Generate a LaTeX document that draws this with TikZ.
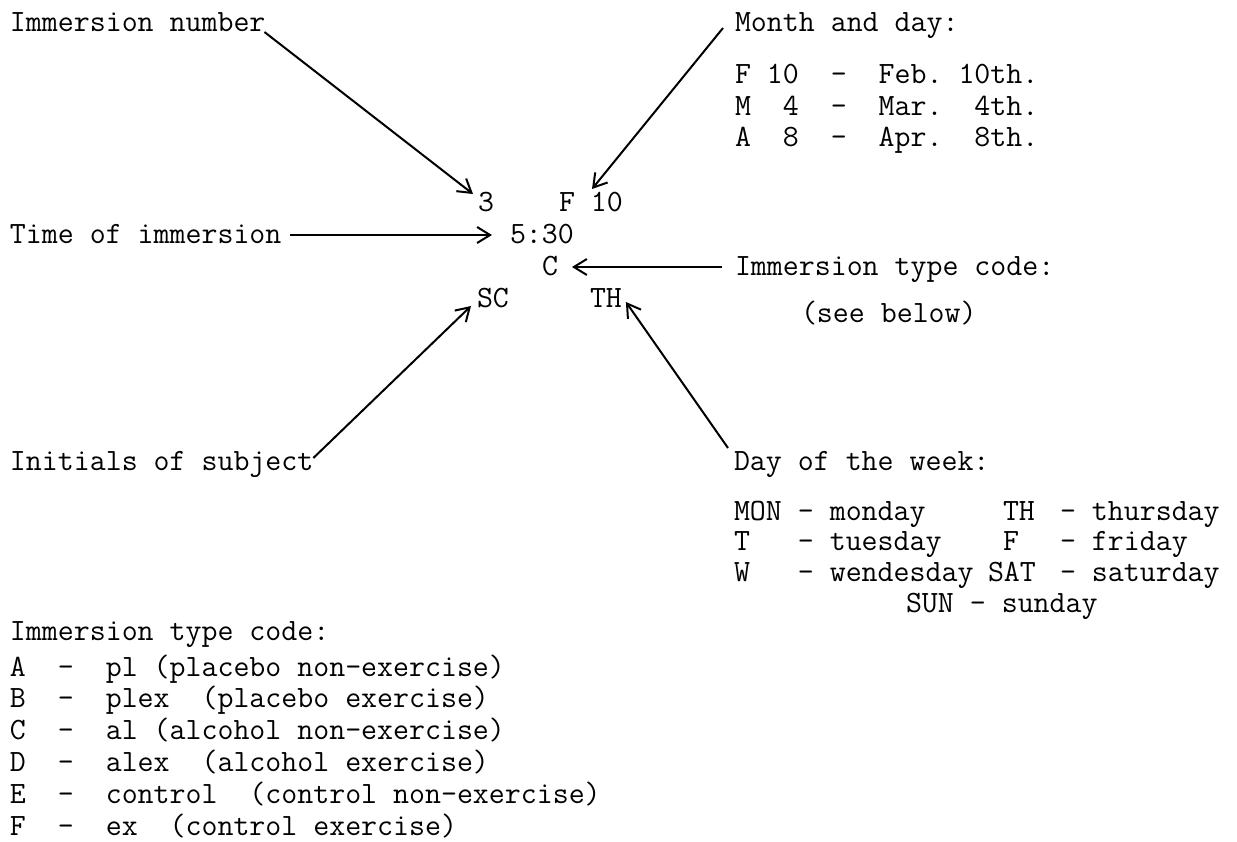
\documentclass[tikz,border=0pt]{standalone}
\usepackage{fontspec}
\usetikzlibrary{arrows.meta}
\begin{document}
\begin{tikzpicture}[x=0.5pt,y=-0.5pt,
  txt/.style={anchor=base west,inner sep=0pt,outer sep=0pt,
    font=\ttfamily\fontsize{15.5pt}{18pt}\selectfont\frenchspacing},
  arr/.style={line width=1pt,-{Straight Barb[length=6.5pt,width=8pt,line width=1pt]}}]
\useasboundingbox (0,0) rectangle (1237,841);
\fill[white] (0,0) rectangle (1237,841);
% labels and centre record
\node[txt] (immnum) at (10,31) {Immersion number};
\node[txt] (month) at (735,31) {Month and day:};
\node[txt] (m1) at (735,83) {F~10~~-~~Feb.~10th.};
\node[txt] (m2) at (735,115) {M~~4~~-~~Mar.~~4th.};
\node[txt] (m3) at (735,146) {A~~8~~-~~Apr.~~8th.};
\node[txt] (num) at (478,211) {3};
\node[txt] (date) at (559,211) {F~10};
\node[txt] (timelbl) at (10,243) {Time of immersion};
\node[txt] (time) at (510,243) {5:30};
\node[txt] (code) at (542,275) {C};
\node[txt] (codelbl) at (735,275) {Immersion type code:};
\node[txt] (see) at (801,322) {(see below)};
\node[txt] (init) at (477,307) {SC};
\node[txt] (dow) at (590,307) {TH};
\node[txt] (initlbl) at (10,470) {Initials of subject};
\node[txt] (dowlbl) at (734,470) {Day of the week:};
% day list
\node[txt] (d1) at (734,520) {MON~-~monday};
\node[txt] (d2) at (734,550) {T~~~-~tuesday};
\node[txt] (d3) at (734,581) {W~~~-~wendesday};
\node[txt] (d4k) at (1003,520) {TH};
\node[txt] (d4) at (1060,520) {-~thursday};
\node[txt] (d5k) at (1003,550) {F};
\node[txt] (d5) at (1060,550) {-~friday};
\node[txt] (d6k) at (988,581) {SAT};
\node[txt] (d6) at (1060,581) {-~saturday};
\node[txt] (d7) at (906,612) {SUN~-~sunday};
% immersion type code list
\node[txt] (codes) at (10,640) {Immersion type code:};
\node[txt] (ca) at (10,676) {A~~-~~pl (placebo non-exercise)};
\node[txt] (cb) at (10,707) {B~~-~~plex~~(placebo exercise)};
\node[txt] (cc) at (10,739) {C~~-~~al (alcohol non-exercise)};
\node[txt] (cd) at (10,771) {D~~-~~alex~~(alcohol exercise)};
\node[txt] (ce) at (10,803) {E~~-~~control~~(control non-exercise)};
\node[txt] (cf) at (10,835) {F~~-~~ex~~(control exercise)};
% arrows
\draw[arr] ([shift={(-1,1)}]immnum.base east) -- ([shift={(-5,-17)}]num.base west);
\draw[arr] ([shift={(-12,-3)}]month.base west) -- ([shift={(33,-22)}]date.base west);
\draw[arr] ([shift={(9,-8)}]timelbl.base east) -- ([shift={(-18,-8)}]time.base west);
\draw[arr] ([shift={(-13,-8)}]codelbl.base west) -- ([shift={(14,-8)}]code.base east);
\draw[arr] ([shift={(0,-12)}]initlbl.base east) -- ([shift={(-6,-1)}]init.base west);
\draw[arr] ([shift={(-6,-22)}]dowlbl.base west) -- ([shift={(4,-5)}]dow.base east);
\end{tikzpicture}
\end{document}
